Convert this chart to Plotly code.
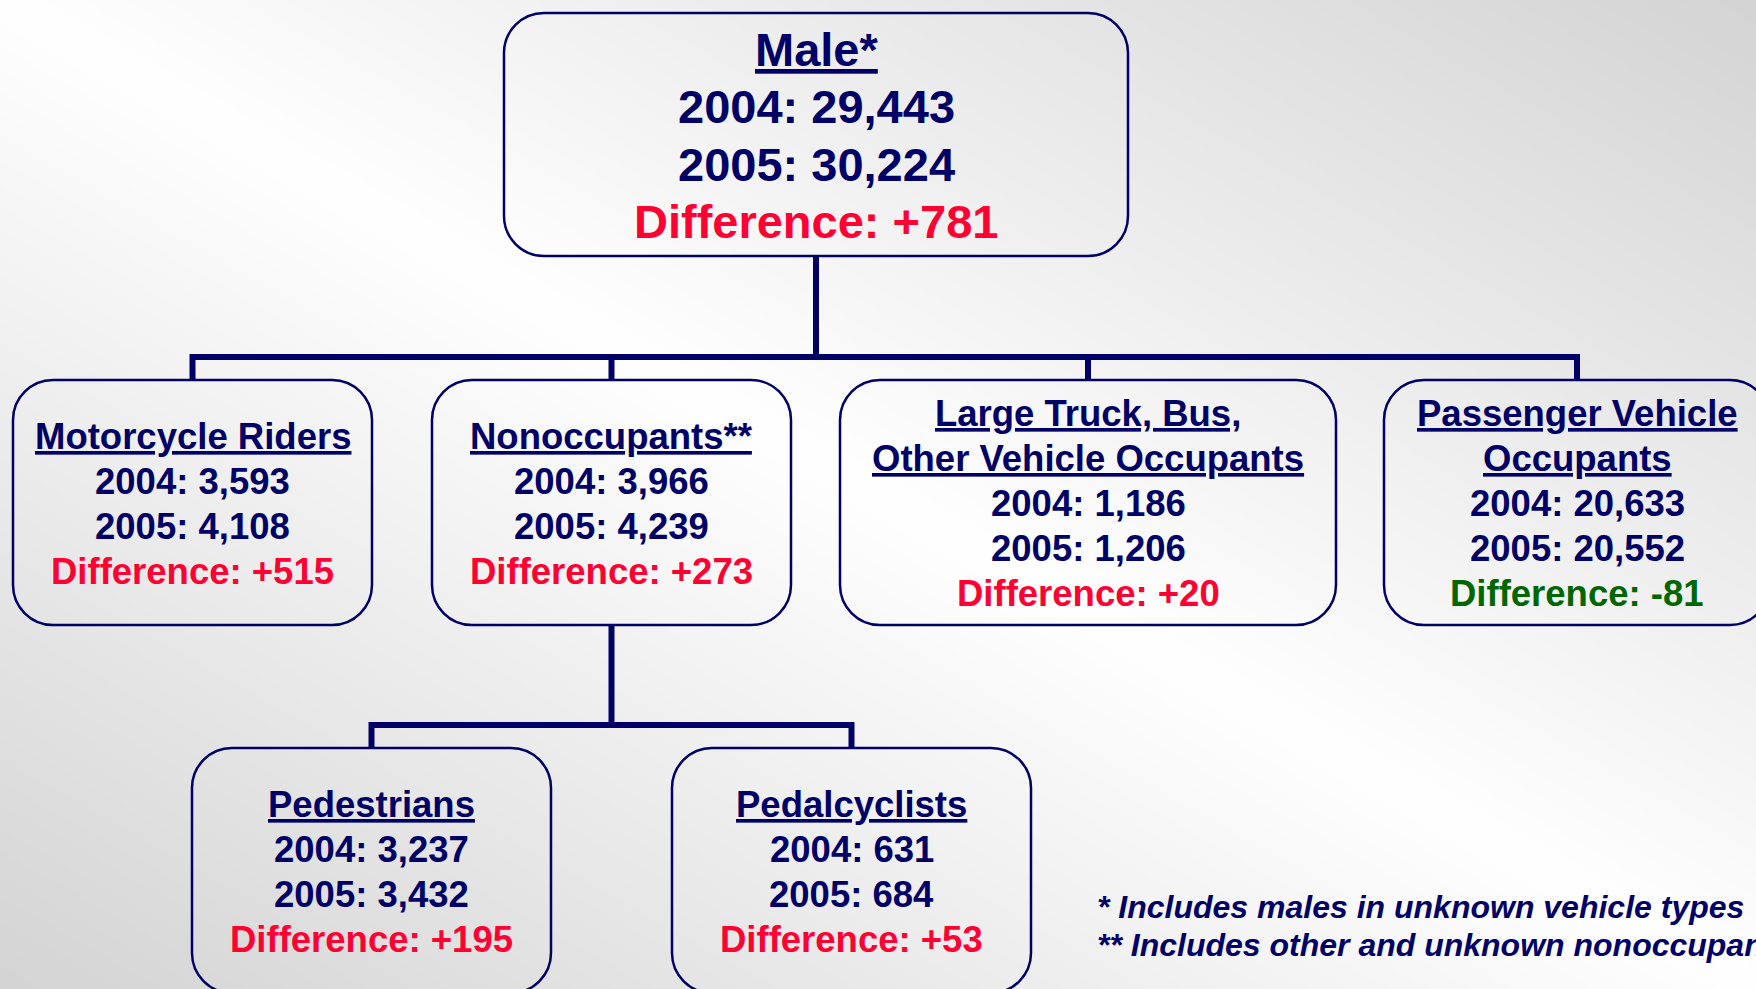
import plotly.graph_objects as go

# ---------------------------------------------------------------------------
# Data: male traffic fatalities by person type, 2004 vs 2005
# ---------------------------------------------------------------------------
node_titles = [
    ["Male*"],
    ["Motorcycle Riders"],
    ["Nonoccupants**"],
    ["Large Truck, Bus,", "Other Vehicle Occupants"],
    ["Passenger Vehicle", "Occupants"],
    ["Pedestrians"],
    ["Pedalcyclists"],
]
deaths_2004 = [29443, 3593, 3966, 1186, 20633, 3237, 631]
deaths_2005 = [30224, 4108, 4239, 1206, 20552, 3432, 684]
parent = [None, 0, 0, 0, 0, 2, 2]

footnotes = [
    "* Includes males in unknown vehicle types",
    "** Includes other and unknown nonoccupants",
]

# ---------------------------------------------------------------------------
# Layout (pixel space, y grows downward)
# ---------------------------------------------------------------------------
W, H = 1756, 989
boxes = [  # x0, x1, y0, y1
    (504, 1128, 13, 256),
    (13, 372, 380, 625),
    (432, 791, 380, 625),
    (840, 1336, 380, 625),
    (1384, 1770, 380, 625),
    (192, 551, 748, 993),
    (672, 1031, 748, 993),
]
bus_y = {0: 357, 2: 725}

NAVY = "#000066"
RED = "#ff0033"
GREEN = "#006600"
FONT = "Liberation Sans, Arial, sans-serif"


def rounded_box(x0, x1, y0, y1, r):
    k = 0.5523 * r
    return (
        f"M{x0 + r},{y0} L{x1 - r},{y0} "
        f"C{x1 - r + k},{y0} {x1},{y0 + r - k} {x1},{y0 + r} "
        f"L{x1},{y1 - r} C{x1},{y1 - r + k} {x1 - r + k},{y1} {x1 - r},{y1} "
        f"L{x0 + r},{y1} C{x0 + r - k},{y1} {x0},{y1 - r + k} {x0},{y1 - r} "
        f"L{x0},{y0 + r} C{x0},{y0 + r - k} {x0 + r - k},{y0} {x0 + r},{y0} Z"
    )


shapes = []

# background: diagonal gradient, white along TL-BR, grey toward TR/BL corners
dark, light = 212, 255
steps = light - dark
for i in range(steps + 1):
    a = 1 - i / steps
    g = dark + i
    v0, v1 = -0.05, 1.05
    path = (f"M{v0 - a},{1 - v0} L{v0 + a},{1 - v0} "
            f"L{v1 + a},{1 - v1} L{v1 - a},{1 - v1} Z")
    shapes.append(dict(type="path", xref="paper", yref="paper", path=path,
                       fillcolor=f"rgb({g},{g},{g})", line_width=0,
                       layer="below"))

# connectors
for p, by in bus_y.items():
    kids = [i for i, q in enumerate(parent) if q == p]
    px = (boxes[p][0] + boxes[p][1]) / 2
    cx = [(boxes[k][0] + boxes[k][1]) / 2 for k in kids]
    top = boxes[kids[0]][2]
    path = f"M{cx[0]},{top} V{by} H{cx[-1]} V{top} "
    for c in cx[1:-1]:
        path += f"M{c},{top} V{by} "
    path += f"M{px},{boxes[p][3]} V{by}"
    shapes.append(dict(type="path", xref="x", yref="y", path=path,
                       line=dict(color=NAVY, width=6), layer="below"))

# node boxes
for (x0, x1, y0, y1) in boxes:
    shapes.append(dict(type="path", xref="x", yref="y",
                       path=rounded_box(x0, x1, y0, y1, 40),
                       line=dict(color=NAVY, width=2.5),
                       fillcolor="rgba(0,0,0,0)", layer="below"))

annotations = []
for i, titles in enumerate(node_titles):
    x0, x1, y0, y1 = boxes[i]
    cx, cy = (x0 + x1) / 2, (y0 + y1) / 2 + 1
    size = 47 if i == 0 else 36.5
    step = 57.5 if i == 0 else 45
    diff = deaths_2005[i] - deaths_2004[i]
    lines = [(t, NAVY, True) for t in titles] + [
        (f"2004: {deaths_2004[i]:,}", NAVY, False),
        (f"2005: {deaths_2005[i]:,}", NAVY, False),
        (f"Difference: {diff:+,}", RED if diff > 0 else GREEN, False),
    ]
    n = len(lines)
    for j, (txt, col, under) in enumerate(lines):
        annotations.append(dict(
            x=cx, y=cy + (j - (n - 1) / 2) * step, xref="x", yref="y",
            text=f"<u>{txt}</u>" if under else txt, showarrow=False,
            xanchor="center", yanchor="middle",
            font=dict(family=FONT, size=size, color=col, weight=700),
        ))

for j, note in enumerate(footnotes):
    annotations.append(dict(
        x=1095, y=907 + j * 38, xref="x", yref="y", text=note,
        showarrow=False, xanchor="left", yanchor="middle",
        font=dict(family=FONT, size=32, color=NAVY, weight=700,
                  style="italic"),
    ))

fig = go.Figure()
fig.add_trace(go.Scatter(x=[0, W], y=[0, H], mode="markers",
                         marker=dict(opacity=0), hoverinfo="skip",
                         showlegend=False))
fig.update_layout(
    width=W, height=H,
    margin=dict(l=0, r=0, t=0, b=0),
    paper_bgcolor="white", plot_bgcolor="rgba(0,0,0,0)",
    xaxis=dict(range=[0, W], visible=False, fixedrange=True),
    yaxis=dict(range=[H, 0], visible=False, fixedrange=True),
    shapes=shapes, annotations=annotations, showlegend=False,
)
fig.write_html("out.html", config={"displayModeBar": False},
               post_script="document.body.style.margin='0';")
